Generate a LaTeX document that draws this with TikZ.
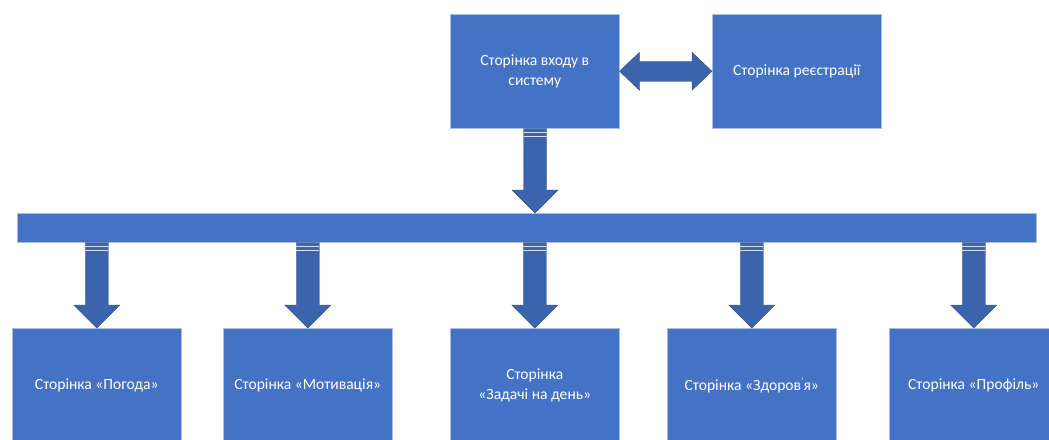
\documentclass[tikz,border=0pt]{standalone}
\usepackage{fontspec}
\setmainfont{Carlito}
\usetikzlibrary{calc}
\definecolor{boxblue}{HTML}{4472C4}
\definecolor{boxedge}{HTML}{A9BCE2}
\definecolor{arrowblue}{HTML}{3C64AD}
\definecolor{arrowedge}{HTML}{2F528F}
\tikzset{
  page/.style={draw=boxedge, line width=0.4pt, fill=boxblue, text=white,
    minimum width=126.75pt, minimum height=85.5pt, inner sep=0pt,
    anchor=north west, align=center, font=\fontsize{11.7}{15}\selectfont},
  blockarrow/.style={fill=arrowblue, draw=arrowedge, line width=0.3pt},
  seam/.style={draw=white!80!arrowblue, line width=0.5pt}
}
% vertical block arrow from coordinate #1 down to tip #2
\newcommand\blockdown[2]{%
  \filldraw[blockarrow] ($(#1)+(-11.5,0)$) -- ($(#2)+(-11.5,-23)$) -- ($(#2)+(-23,-23)$)
    -- (#2) -- ($(#2)+(23,-23)$) -- ($(#2)+(11.5,-23)$) -- ($(#1)+(11.5,0)$) -- cycle;
  \draw[seam] ($(#1)+(-11.5,4)$) -- ($(#1)+(11.5,4)$);
  \draw[seam] ($(#1)+(-11.5,8)$) -- ($(#1)+(11.5,8)$);
}
\begin{document}
\begin{tikzpicture}[x=0.75pt, y=-0.75pt]
\useasboundingbox (0,0) rectangle (1049,439);
\clip (0,0) rectangle (1049,439);

% top row
\node[page] (login) at (450,14) {Сторінка входу в\\систему};
\node[page] (reg) at (712,14) {Сторінка реєстрації};

% distribution bar
\node[page, minimum width=764.25pt, minimum height=21.75pt] (bar) at (17,213) {};

% bottom row
\node[page] (pog) at (12,328) {Сторінка «Погода»};
\node[page] (mot) at (223,328) {Сторінка «Мотивація»};
\node[page] (zad) at (450,328) {Сторінка\\«Задачі на день»};
\node[page] (zdo) at (667,328) {Сторінка «Здоров\raisebox{0.35em}{\scriptsize ʼ}я»};
\node[page] (pro) at (889,328) {Сторінка «Профіль»};

% double arrow between login and registration
\coordinate (dl) at (login.east);
\coordinate (dr) at (reg.west);
\filldraw[blockarrow] (dl) -- ($(dl)+(20,-19)$) -- ($(dl)+(20,-10)$) -- ($(dr)+(-20,-10)$)
  -- ($(dr)+(-20,-19)$) -- (dr) -- ($(dr)+(-20,19)$) -- ($(dr)+(-20,10)$)
  -- ($(dl)+(20,10)$) -- ($(dl)+(20,19)$) -- cycle;

% login to bar
\coordinate (s0) at ($(login.south west)+(85,0)$);
\coordinate (t0) at (bar.north -| s0);
\blockdown{s0}{t0}

% bar to each page
\foreach \p in {pog,mot,zad,zdo,pro}{
  \coordinate (s\p) at (bar.south -| \p.north);
  \blockdown{s\p}{\p.north}
}
\end{tikzpicture}
\end{document}
